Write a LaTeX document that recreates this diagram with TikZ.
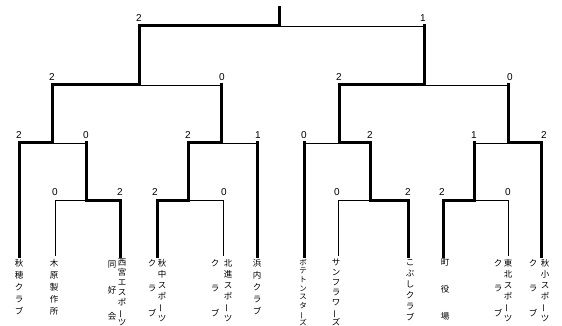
\documentclass[tikz,border=0pt]{standalone}
\usepackage{fontspec}
\newfontfamily\jpf{Noto Sans CJK JP}
\newfontfamily\numf{Liberation Sans}
\newcommand{\vbar}{\rotatebox[origin=c]{90}{ー}}
\tikzset{
  win/.style={line width=3pt, line join=miter, line cap=rect},
  lose/.style={line width=0.9pt},
  sc/.style={font=\numf\fontsize{10}{10}\selectfont, inner sep=0pt},
  nm/.style={anchor=north, inner sep=0pt, align=center}
}
\begin{document}
\begin{tikzpicture}[x=1pt,y=-1pt]
\useasboundingbox[fill=white] (0,0) rectangle (562,326);
% coordinates
\coordinate (top) at (279,8);
\coordinate (f) at (279,26);
\coordinate (c1) at (139,85);
\coordinate (c2) at (424,85);
\coordinate (b1) at (52,143);
\coordinate (b2) at (221,143);
\coordinate (b3) at (339,143);
\coordinate (b4) at (508,143);
\coordinate (a1) at (86,200);
\coordinate (a2) at (188,200);
\coordinate (a3) at (370,200);
\coordinate (a4) at (474,200);
\foreach \n/\x in {1/19,2/55,3/120,4/157,5/223,6/257,7/304,8/338,9/408,10/443,11/508,12/541}
  \coordinate (t\n) at (\x,256);
% left half
\draw[win] (top) -- (f);
\draw[win] (f) -| (c1) -| (b1) -| (t1);
\draw[lose] (c1) -- (c1 -| b2);
\draw[win] (c1 -| b2) -- (b2) -| (a2) -| (t4);
\draw[lose] (b2) -- (b2 -| t6);
\draw[win] (b2 -| t6) -- (t6);
\draw[lose] (b1) -- (b1 -| a1);
\draw[win] (b1 -| a1) -- (a1) -| (t3);
\draw[lose] (a1) -| (t2);
\draw[lose] (a2) -| (t5);
% right half
\draw[lose] (f) -- (f -| c2);
\draw[win] (f -| c2) -- (c2) -| (b3) -| (a3) -| (t9);
\draw[lose] (c2) -- (c2 -| b4);
\draw[win] (c2 -| b4) -- (b4) -| (t12);
\draw[lose] (b3) -- (b3 -| t7);
\draw[win] (b3 -| t7) -- (t7);
\draw[lose] (a3) -| (t8);
\draw[lose] (b4) -- (b4 -| a4);
\draw[win] (b4 -| a4) -- (a4) -| (t10);
\draw[lose] (a4) -| (t11);
% scores
\node[sc] (s1) at (139,18) {2};
\node[sc] (s2) at (423,18) {1};
\node[sc] (s3) at (52,77) {2};
\node[sc] (s4) at (222,77) {0};
\node[sc] (s5) at (339,77) {2};
\node[sc] (s6) at (510,77) {0};
\node[sc] (s7) at (19,135) {2};
\node[sc] (s8) at (86,135) {0};
\node[sc] (s9) at (188,135) {2};
\node[sc] (s10) at (258,135) {1};
\node[sc] (s11) at (304,135) {0};
\node[sc] (s12) at (370,135) {2};
\node[sc] (s13) at (474,135) {1};
\node[sc] (s14) at (544,135) {2};
\node[sc] (s15) at (55,192) {0};
\node[sc] (s16) at (120,192) {2};
\node[sc] (s17) at (155,192) {2};
\node[sc] (s18) at (224,192) {0};
\node[sc] (s19) at (337,192) {0};
\node[sc] (s20) at (408,192) {2};
\node[sc] (s21) at (442,192) {2};
\node[sc] (s22) at (508,192) {0};
% team names
\node[nm, font=\jpf\fontsize{8.5}{12}\selectfont] (n1) at (19,259) {秋\\穂\\ク\\ラ\\ブ};
\node[nm, font=\jpf\fontsize{8.5}{12}\selectfont] (n2) at (54,259) {木\\原\\製\\作\\所};
\node[nm, font=\jpf\fontsize{8.5}{10}\selectfont] (n3) at (122,259) {西\\宮\\エ\\ス\\ポ\\\vbar\\ツ};
\node[nm, font=\jpf\fontsize{8.5}{26}\selectfont] (n3b) at (112,261) {同\\好\\会};
\node[nm, font=\jpf\fontsize{8.5}{11}\selectfont] (n4) at (162,259) {秋\\中\\ス\\ポ\\\vbar\\ツ};
\node[nm, font=\jpf\fontsize{8.5}{25}\selectfont] (n4b) at (152,259) {ク\\ラ\\ブ};
\node[nm, font=\jpf\fontsize{8.5}{11}\selectfont] (n5) at (228,259) {北\\進\\ス\\ポ\\\vbar\\ツ};
\node[nm, font=\jpf\fontsize{8.5}{25}\selectfont] (n5b) at (215,259) {ク\\ラ\\ブ};
\node[nm, font=\jpf\fontsize{8.5}{12}\selectfont] (n6) at (257,259) {浜\\内\\ク\\ラ\\ブ};
\node[nm, font=\jpf\fontsize{7.5}{8.6}\selectfont] (n7) at (303,259) {ボ\\テ\\ト\\ン\\ス\\タ\\\vbar\\ズ};
\node[nm, font=\jpf\fontsize{8.5}{10}\selectfont] (n8) at (336,259) {サ\\ン\\フ\\ラ\\ワ\\\vbar\\ズ};
\node[nm, font=\jpf\fontsize{8.5}{11}\selectfont] (n9) at (410,259) {こ\\ぶ\\し\\ク\\ラ\\ブ};
\node[nm, font=\jpf\fontsize{8.5}{27}\selectfont] (n10) at (445,259) {町\\役\\場};
\node[nm, font=\jpf\fontsize{8.5}{11}\selectfont] (n11) at (508,259) {東\\北\\ス\\ポ\\\vbar\\ツ};
\node[nm, font=\jpf\fontsize{8.5}{25}\selectfont] (n11b) at (498,259) {ク\\ラ\\ブ};
\node[nm, font=\jpf\fontsize{8.5}{11}\selectfont] (n12) at (545,259) {秋\\小\\ス\\ポ\\\vbar\\ツ};
\node[nm, font=\jpf\fontsize{8.5}{25}\selectfont] (n12b) at (533,259) {ク\\ラ\\ブ};
\end{tikzpicture}
\end{document}
